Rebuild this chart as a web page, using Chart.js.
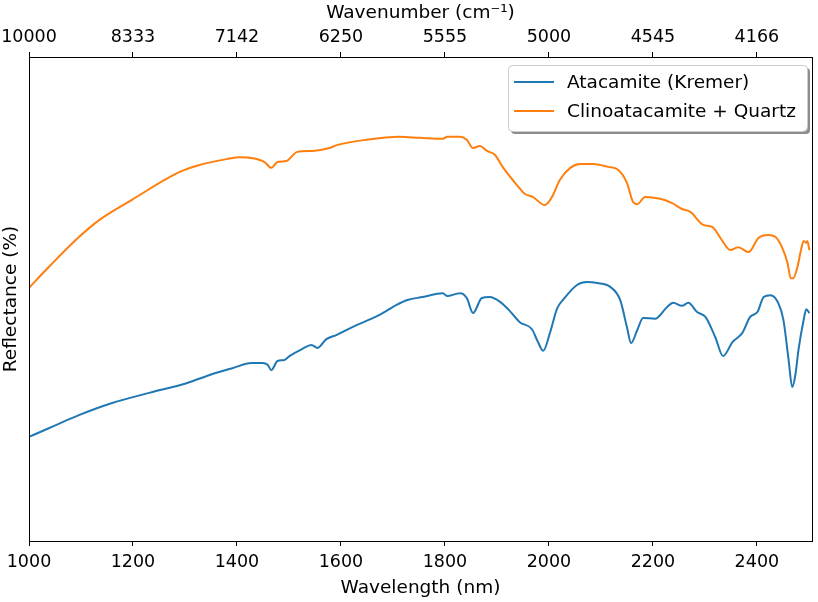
<!DOCTYPE html>
<html>
<head>
<meta charset="utf-8">
<script src="https://cdn.jsdelivr.net/npm/chart.js@4"></script>
<style>
  html, body { margin: 0; padding: 0; background: #fff; }
  #wrap { width: 818px; height: 602px; }
</style>
</head>
<body>
<div id="wrap"><canvas id="chart"></canvas></div>
<script>
// tick positions (nm) and matching wavenumber labels (cm-1)
const wavelengthTicks = [1000, 1200, 1400, 1600, 1800, 2000, 2200, 2400];
const wavenumberLabels = ['10000', '8333', '7142', '6250', '5555', '5000', '4545', '4166'];

// Atacamite (Kremer)
const atacamiteNm = [1000, 1038, 1096, 1160, 1231, 1303, 1353, 1391, 1428, 1449, 1459, 1466, 1478, 1491, 1501,
  1526, 1543, 1555, 1572, 1592, 1622, 1674, 1707, 1728, 1757, 1796, 1804, 1829, 1842, 1854, 1871, 1886, 1906,
  1925, 1944, 1967, 1979, 1989, 2002, 2016, 2027, 2054, 2073, 2093, 2118, 2137, 2150, 2158, 2170, 2181, 2204,
  2227, 2239, 2256, 2268, 2285, 2301, 2320, 2335, 2353, 2372, 2387, 2401, 2413, 2426, 2441, 2451, 2461, 2468,
  2474, 2480, 2490, 2495, 2501];
const atacamiteRefl = [21.5, 23.3, 26.0, 28.5, 30.6, 32.6, 34.5, 35.7, 36.8, 36.8, 36.4, 35.3, 37.2, 37.4, 38.2,
  39.7, 40.5, 39.9, 41.7, 42.6, 44.2, 46.7, 48.8, 49.8, 50.4, 51.2, 50.6, 51.2, 50.2, 47.1, 50.2, 50.4, 49.4,
  47.5, 45.2, 43.8, 41.1, 39.3, 43.0, 48.1, 49.8, 52.9, 53.5, 53.3, 52.5, 49.8, 44.2, 40.9, 43.6, 46.1, 45.9,
  48.3, 49.2, 48.6, 49.2, 47.3, 46.3, 42.1, 38.2, 41.1, 43.0, 46.3, 47.3, 50.4, 50.8, 49.2, 45.7, 37.4, 31.8,
  34.3, 39.5, 45.7, 47.9, 47.1];

// Clinoatacamite + Quartz
const clinoNm = [1000, 1038, 1096, 1135, 1198, 1289, 1328, 1380, 1405, 1430, 1453, 1466, 1478, 1495, 1516,
  1545, 1578, 1592, 1649, 1713, 1752, 1796, 1804, 1829, 1842, 1854, 1867, 1881, 1896, 1911, 1938, 1954, 1969,
  1992, 2006, 2021, 2041, 2060, 2085, 2114, 2133, 2150, 2162, 2170, 2185, 2214, 2237, 2256, 2272, 2297, 2314,
  2330, 2349, 2364, 2384, 2403, 2422, 2436, 2449, 2459, 2465, 2470, 2478, 2484, 2490, 2495, 2497, 2501];
const clinoRefl = [52.3, 56.6, 62.8, 66.3, 70.5, 76.2, 77.7, 78.9, 79.3, 79.1, 78.3, 77.1, 78.3, 78.5, 80.4,
  80.6, 81.2, 81.8, 82.9, 83.5, 83.3, 83.1, 83.5, 83.5, 82.9, 81.2, 81.6, 80.6, 79.8, 77.3, 73.6, 71.7, 71.1,
  69.4, 71.1, 74.6, 77.1, 77.9, 77.9, 77.3, 76.7, 74.0, 70.0, 69.6, 71.1, 70.7, 69.8, 68.6, 68.0, 65.3, 64.9,
  62.6, 60.1, 60.7, 59.7, 62.6, 63.2, 62.8, 60.5, 57.4, 54.3, 54.3, 56.6, 59.7, 62.0, 61.6, 62.0, 60.1];

const FONT = 'DejaVu Sans';
const TICK_SIZE = 17.5;
const LABEL_SIZE = 18.5;
const toXY = (xs, ys) => xs.map((x, i) => ({ x: x, y: ys[i] }));

// frame round the plot + boxed legend like matplotlib
const framePlugin = {
  id: 'frame',
  afterDatasetsDraw(chart) {
    const { ctx, chartArea: a } = chart;
    ctx.save();
    ctx.strokeStyle = '#000';
    ctx.lineWidth = 1;
    ctx.strokeRect(a.left + 0.5, a.top + 0.5, a.right - a.left, a.bottom - a.top);
    ctx.restore();
  },
  afterDraw(chart) {
    const { ctx, chartArea: a } = chart;
    const w = 299, h = 66;
    const x = a.right - 5 - w, y = a.top + 8;
    ctx.save();
    const rr = (px, py) => {
      ctx.beginPath();
      ctx.roundRect(px, py, w, h, 4);
    };
    ctx.fillStyle = 'rgba(0,0,0,0.45)';
    rr(x + 3, y + 3); ctx.fill();
    ctx.fillStyle = '#fff';
    rr(x, y); ctx.fill();
    ctx.strokeStyle = '#cccccc';
    ctx.lineWidth = 1;
    rr(x + 0.5, y + 0.5); ctx.stroke();
    ctx.font = LABEL_SIZE + 'px "' + FONT + '"';
    ctx.textBaseline = 'middle';
    chart.data.datasets.forEach((ds, i) => {
      const cy = y + 17 + i * 29;
      ctx.strokeStyle = ds.borderColor;
      ctx.lineWidth = 2;
      ctx.beginPath();
      ctx.moveTo(x + 6, cy);
      ctx.lineTo(x + 46, cy);
      ctx.stroke();
      ctx.fillStyle = '#000';
      ctx.fillText(ds.label, x + 59, cy + 1);
    });
    ctx.restore();
  }
};

// keep the tick labels from pushing the plot area inwards
const noSidePad = s => { s.paddingLeft = 0; s.paddingRight = 0; };

new Chart(document.getElementById('chart'), {
  type: 'line',
  data: {
    datasets: [
      {
        label: 'Atacamite (Kremer)',
        data: toXY(atacamiteNm, atacamiteRefl),
        borderColor: '#1f77b4',
        borderWidth: 2,
        pointRadius: 0,
        cubicInterpolationMode: 'monotone',
        fill: false
      },
      {
        label: 'Clinoatacamite + Quartz',
        data: toXY(clinoNm, clinoRefl),
        borderColor: '#ff7f0e',
        borderWidth: 2,
        pointRadius: 0,
        cubicInterpolationMode: 'monotone',
        fill: false
      }
    ]
  },
  options: {
    responsive: true,
    maintainAspectRatio: false,
    animation: false,
    layout: { padding: { left: 0, right: 6, top: 0, bottom: 0 } },
    plugins: {
      legend: { display: false },
      tooltip: { enabled: false }
    },
    scales: {
      x: {
        type: 'linear',
        position: 'bottom',
        min: 1000,
        max: 2506,
        afterBuildTicks: s => { s.ticks = wavelengthTicks.map(v => ({ value: v })); },
        afterFit: s => { s.height = 61; noSidePad(s); },
        grid: { drawOnChartArea: false, tickLength: 5, tickColor: '#000' },
        border: { color: '#000' },
        ticks: {
          color: '#000', font: { family: FONT, size: TICK_SIZE }, padding: 6, maxRotation: 0,
          callback: v => String(v)
        },
        title: { display: true, text: 'Wavelength (nm)', color: '#000', font: { family: FONT, size: LABEL_SIZE }, padding: { top: 0, bottom: 3 } }
      },
      x2: {
        type: 'linear',
        position: 'top',
        min: 1000,
        max: 2506,
        afterBuildTicks: s => { s.ticks = wavelengthTicks.map(v => ({ value: v })); },
        afterFit: s => { s.height = 57; noSidePad(s); },
        grid: { drawOnChartArea: false, tickLength: 5, tickColor: '#000' },
        border: { color: '#000' },
        ticks: {
          color: '#000', font: { family: FONT, size: TICK_SIZE }, padding: 4, maxRotation: 0,
          callback: (v, i) => wavenumberLabels[i]
        },
        title: { display: true, text: 'Wavenumber (cm⁻¹)', color: '#000', font: { family: FONT, size: LABEL_SIZE }, padding: { top: 2, bottom: 0 } }
      },
      y: {
        min: 0,
        max: 100,
        afterFit: s => { s.width = 29; },
        grid: { display: false },
        border: { color: '#000' },
        ticks: { display: false },
        title: { display: true, text: 'Reflectance (%)', color: '#000', font: { family: FONT, size: LABEL_SIZE }, padding: { top: 0, bottom: 0 } }
      }
    }
  },
  plugins: [framePlugin]
});
</script>
</body>
</html>
